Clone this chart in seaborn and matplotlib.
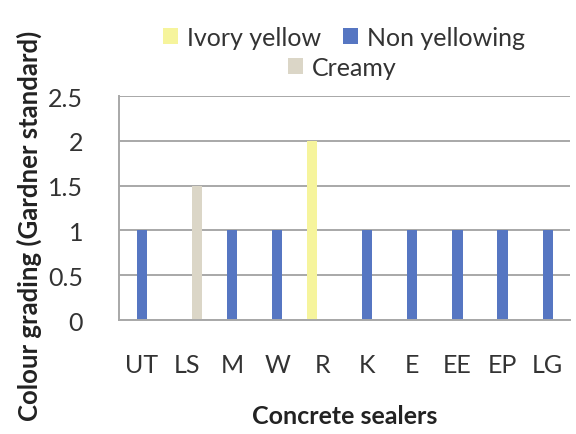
import matplotlib
matplotlib.use("Agg")
import matplotlib.pyplot as plt
import seaborn as sns
import pandas as pd
from matplotlib.patches import Patch

# Colour grading per concrete sealer
sealers = ["UT", "LS", "M", "W", "R", "K", "E", "EE", "EP", "LG"]
colour_class = ["Non yellowing", "Creamy", "Non yellowing", "Non yellowing", "Ivory yellow",
                "Non yellowing", "Non yellowing", "Non yellowing", "Non yellowing", "Non yellowing"]
grading = [1, 1.5, 1, 1, 2, 1, 1, 1, 1, 1]
classes = ["Ivory yellow", "Non yellowing", "Creamy"]
class_colours = ["#F6F49C", "#5676C2", "#DBD6C7"]
y_ticks = [0, 0.5, 1, 1.5, 2, 2.5]
y_tick_labels = ["0", "0.5", "1", "1.5", "2", "2.5"]

df = pd.DataFrame({"Sealer": sealers, "Class": colour_class, "Grading": grading})

sns.set_theme(style="white")
plt.rcParams["font.family"] = ["Lato", "DejaVu Sans"]

fig = plt.figure(figsize=(5.76, 4.35), dpi=100)
ax = fig.add_axes([0.207, 0.262, 0.783, 0.515])

sns.barplot(data=df, x="Sealer", y="Grading", hue="Class", order=sealers,
            hue_order=classes, palette=dict(zip(classes, class_colours)),
            width=0.68, dodge=True, saturation=1, ax=ax, legend=False,
            linewidth=0, errorbar=None)

ax.set_ylim(0, 2.5)
ax.set_yticks(y_ticks)
ax.set_yticklabels(y_tick_labels)
ax.yaxis.grid(True, color="#A8A8A8", linewidth=1.4)
ax.set_axisbelow(True)
for side in ["top", "right"]:
    ax.spines[side].set_visible(False)
for side in ["left", "bottom"]:
    ax.spines[side].set_color("#A8A8A8")
    ax.spines[side].set_linewidth(1.4)
ax.tick_params(axis="both", length=0, labelsize=18, colors="#333333")
ax.tick_params(axis="x", pad=24)
ax.tick_params(axis="y", pad=26)
for lab in ax.get_xticklabels() + ax.get_yticklabels():
    lab.set_color("#333333")

ax.set_xlabel("Concrete sealers", fontsize=18, fontweight="bold", color="#222222", labelpad=20)
ax.set_ylabel("Colour grading (Gardner standard)", fontsize=18.5, fontweight="bold",
              color="#222222")
ax.yaxis.set_label_coords(-0.172, 0.425)

handles = [Patch(facecolor=c, edgecolor="none") for c in class_colours]
fig.legend(handles[:2], classes[:2], ncol=2, loc="center", bbox_to_anchor=(0.597, 0.912),
           frameon=False, fontsize=18, handlelength=0.6, handleheight=0.6,
           handletextpad=0.35, columnspacing=0.9, labelcolor="#333333")
fig.legend(handles[2:], classes[2:], loc="center", bbox_to_anchor=(0.594, 0.843),
           frameon=False, fontsize=18, handlelength=0.6, handleheight=0.6,
           handletextpad=0.35, labelcolor="#333333")

fig.savefig("out.png", dpi=100, facecolor="white")
